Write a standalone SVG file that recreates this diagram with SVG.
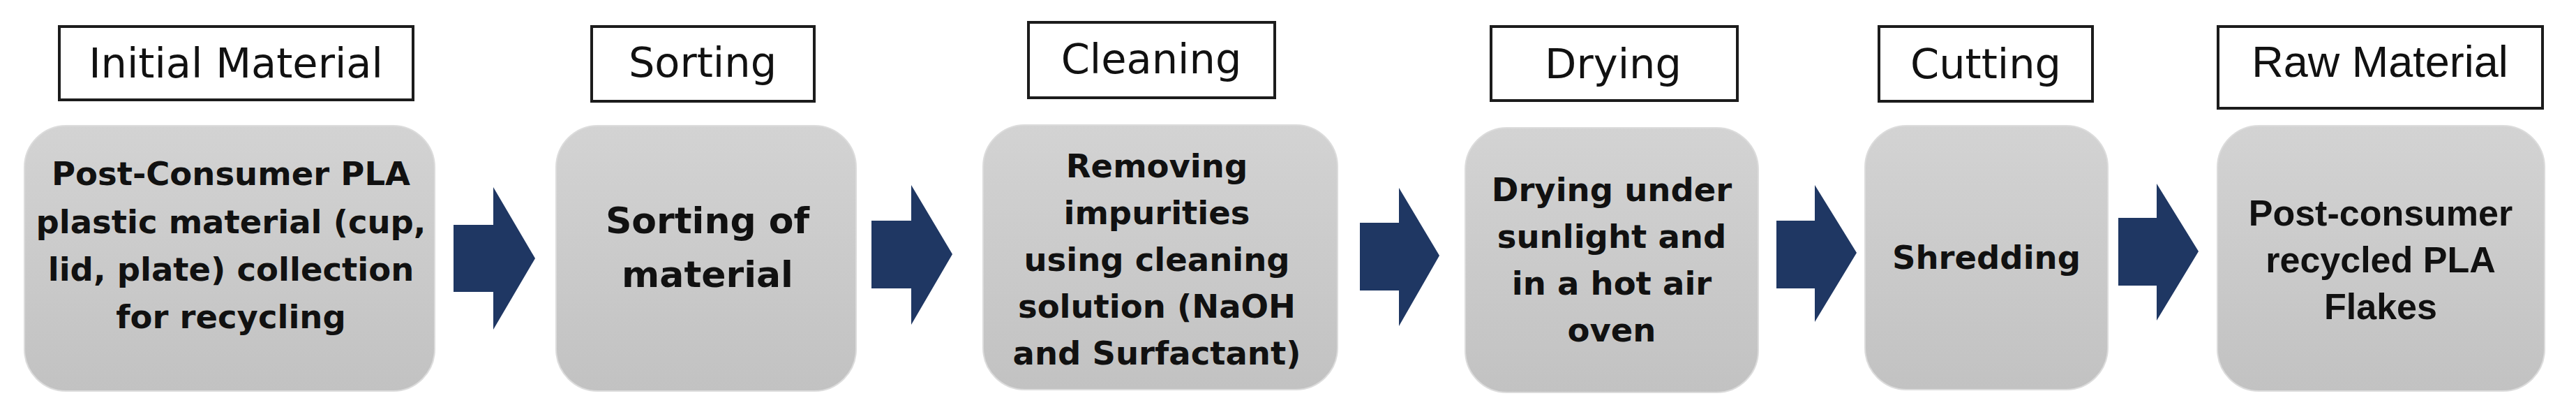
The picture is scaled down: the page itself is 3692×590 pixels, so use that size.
<svg xmlns="http://www.w3.org/2000/svg" width="3692" height="590" viewBox="0 0 3692 590">
<defs>
<linearGradient id="g" x1="0" y1="0" x2="0" y2="1">
<stop offset="0" stop-color="#d3d3d3"/>
<stop offset="1" stop-color="#c2c2c2"/>
</linearGradient>
</defs>
<style>
.lb{fill:#fff;stroke:#1c1c1c;stroke-width:4}
.bx{fill:url(#g);stroke:#dcdcdc;stroke-width:2}
.lt{font-family:"DejaVu Sans",sans-serif;font-size:59px;fill:#111;text-anchor:middle}
.lt2{font-family:"Liberation Sans",Arial,sans-serif;font-size:63px;fill:#111;text-anchor:middle}
.bt{font-family:"DejaVu Sans",sans-serif;font-weight:bold;font-size:46.5px;fill:#111;text-anchor:middle}
.bt2{font-family:"DejaVu Sans",sans-serif;font-weight:bold;font-size:52px;fill:#111;text-anchor:middle}
.bt3{font-family:"Liberation Sans",Arial,sans-serif;font-weight:bold;font-size:52px;fill:#111;text-anchor:middle}
.ar{fill:#1f3763}
</style>
<rect width="3692" height="590" fill="#fff"/>

<g id="step1">
<rect class="lb" x="85" y="38" width="507" height="105"/>
<text class="lt" x="338" y="111">Initial Material</text>
<rect class="bx" x="35" y="180" width="588" height="380" rx="60"/>
<text class="bt" x="331" y="265">Post-Consumer PLA</text>
<text class="bt" x="331" y="334">plastic material (cup,</text>
<text class="bt" x="331" y="402">lid, plate) collection</text>
<text class="bt" x="331" y="470">for recycling</text>
</g>

<g id="step2">
<rect class="lb" x="848" y="38" width="319" height="107"/>
<text class="lt" x="1007" y="110">Sorting</text>
<rect class="bx" x="797" y="180" width="430" height="380" rx="60"/>
<text class="bt2" x="1014" y="334">Sorting of</text>
<text class="bt2" x="1014" y="411">material</text>
</g>

<g id="step3">
<rect class="lb" x="1474" y="32" width="353" height="108"/>
<text class="lt" x="1650" y="105">Cleaning</text>
<rect class="bx" x="1409" y="179" width="508" height="379" rx="60"/>
<text class="bt" x="1658" y="254">Removing</text>
<text class="bt" x="1658" y="321">impurities</text>
<text class="bt" x="1658" y="388">using cleaning</text>
<text class="bt" x="1658" y="455">solution (NaOH</text>
<text class="bt" x="1658" y="522">and Surfactant)</text>
</g>

<g id="step4">
<rect class="lb" x="2137" y="38" width="353" height="106"/>
<text class="lt" x="2312" y="112">Drying</text>
<rect class="bx" x="2100" y="183" width="420" height="379" rx="60"/>
<text class="bt" x="2310" y="288">Drying under</text>
<text class="bt" x="2310" y="355">sunlight and</text>
<text class="bt" x="2310" y="422">in a hot air</text>
<text class="bt" x="2310" y="489">oven</text>
</g>

<g id="step5">
<rect class="lb" x="2693" y="38" width="306" height="107"/>
<text class="lt" x="2846" y="112">Cutting</text>
<rect class="bx" x="2673" y="180" width="348" height="378" rx="60"/>
<text class="bt" x="2847" y="385">Shredding</text>
</g>

<g id="step6">
<rect class="lb" x="3179" y="38" width="465" height="117"/>
<text class="lt2" x="3411" y="110">Raw Material</text>
<rect class="bx" x="3178" y="180" width="469" height="380" rx="60"/>
<text class="bt3" x="3412" y="323">Post-consumer</text>
<text class="bt3" x="3412" y="390">recycled PLA</text>
<text class="bt3" x="3412" y="457">Flakes</text>
</g>

<g id="connectors">
<polygon class="ar" points="650,322 707,322 707,268 767,370 707,472 707,418 650,418"/>
<polygon class="ar" points="1249,316 1306,316 1306,265 1365,364 1306,465 1306,413 1249,413"/>
<polygon class="ar" points="1949,319 2005,319 2005,269 2063,366 2005,467 2005,416 1949,416"/>
<polygon class="ar" points="2546,316 2601,316 2601,265 2661,362 2601,461 2601,413 2546,413"/>
<polygon class="ar" points="3036,312 3091,312 3091,263 3151,360 3091,459 3091,409 3036,409"/>
</g>
</svg>
